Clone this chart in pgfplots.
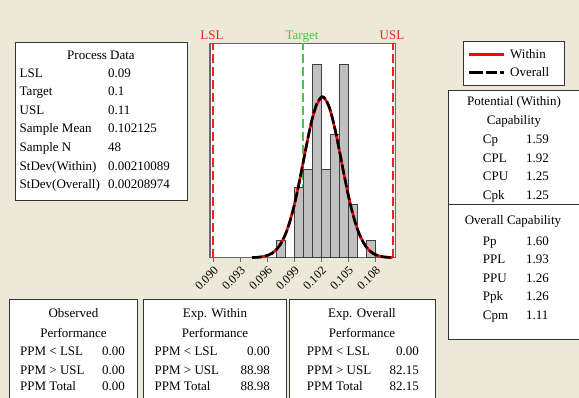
\documentclass[border=0pt]{standalone}
\usepackage{pgfplots}
\pgfplotsset{compat=1.18}
\usepackage{fontspec}
\setmainfont{Liberation Serif}
\definecolor{bg}{RGB}{236,233,216}
\definecolor{tgt}{RGB}{70,200,70}
\definecolor{specred}{RGB}{250,30,30}
\definecolor{barfill}{RGB}{192,192,192}
\definecolor{framec}{RGB}{105,105,105}
\begin{document}
\fontsize{13bp}{15bp}\selectfont
\begin{tikzpicture}
\useasboundingbox (0,0) rectangle (579bp,398bp);
\clip (0,0) rectangle (579bp,398bp);
\fill[bg] (0,0) rectangle (579bp,398bp);
\begin{axis}[
  at={(210bp,140.3bp)}, anchor=south west,
  scale only axis, width=185.7bp, height=214.4bp,
  xmin=0.08963, xmax=0.11027, ymin=0, ymax=12.2,
  clip=false,
  axis background/.style={fill=white},
  axis line style={framec, line width=1.5bp},
  ytick=\empty,
  xtick={0.090,0.093,0.096,0.099,0.102,0.105,0.108},
  xtick pos=left, tick align=outside, major tick length=4bp,
  tick style={framec, line width=1bp},
  scaled x ticks=false,
  xticklabel shift=3bp,
  xticklabel style={rotate=45, anchor=north east, inner sep=0.5bp, font=\fontsize{12bp}{14bp}\selectfont},
  /pgf/number format/.cd, fixed, fixed zerofill, precision=3, assume math mode=true,
]
\draw[color=specred, line width=1.7bp, dash pattern=on 9bp off 4bp] (axis cs:0.09,0) -- (axis cs:0.09,12.2);
\draw[color=specred, line width=1.7bp, dash pattern=on 9bp off 4bp] (axis cs:0.11,0) -- (axis cs:0.11,12.2);
\draw[color=tgt, line width=1.7bp, dash pattern=on 9bp off 4bp] (axis cs:0.1,0) -- (axis cs:0.1,12.2);
\addplot[ybar, bar width=0.001, fill=barfill, draw=black!75, line width=1bp] coordinates {(0.0975,1)(0.0995,4)(0.1005,5)(0.1015,11)(0.1025,5)(0.1035,7)(0.1045,11)(0.1055,3)(0.1075,1)};
\addplot[red, line width=2.6bp, smooth] coordinates {(0.0943,0.0089)(0.0950,0.0290)(0.0955,0.0631)(0.0960,0.1300)(0.0965,0.2530)(0.0970,0.4651)(0.0975,0.8079)(0.0980,1.3263)(0.0985,2.0575)(0.0990,3.0150)(0.0995,4.1759)(0.1000,5.4649)(0.1005,6.7584)(0.1010,7.8973)(0.1015,8.7204)(0.1020,9.0989)(0.102125,9.115)(0.1025,8.971)(0.1030,8.3577)(0.1035,7.3574)(0.1040,6.1204)(0.1045,4.8111)(0.1050,3.5734)(0.1055,2.5083)(0.1060,1.6634)(0.1065,1.0424)(0.1070,0.6175)(0.1075,0.3455)(0.1080,0.1827)(0.1085,0.0912)(0.1090,0.0431)(0.1095,0.0192)(0.1099,0.0097)};
\addplot[black, line width=2.6bp, smooth, dash pattern=on 10bp off 3bp] coordinates {(0.0943,0.0083)(0.0950,0.0274)(0.0955,0.0602)(0.0960,0.1249)(0.0965,0.2449)(0.0970,0.4530)(0.0975,0.7916)(0.0980,1.3062)(0.0985,2.0360)(0.0990,2.9956)(0.0995,4.1634)(0.1000,5.4642)(0.1005,6.7730)(0.1010,7.9279)(0.1015,8.7632)(0.1020,9.1476)(0.102125,9.164)(0.1025,9.0177)(0.1030,8.3949)(0.1035,7.3802)(0.1040,6.1270)(0.1045,4.8040)(0.1050,3.5569)(0.1055,2.4872)(0.1060,1.6422)(0.1065,1.0242)(0.1070,0.6030)(0.1075,0.3355)(0.1080,0.1761)(0.1085,0.0874)(0.1090,0.0409)(0.1095,0.0181)(0.1099,0.0090)};
\end{axis}
\begin{scope}[x=1bp, y=1bp, every node/.style={inner sep=0pt}]
% spec labels above plot
\node[anchor=base, text=specred] at (212,359) {LSL};
\node[anchor=base, text=tgt] at (302,359) {Target};
\node[anchor=base, text=specred] at (392,359) {USL};
% Process data box
\draw[fill=white, draw=black!80, line width=1bp] (15,197.3) rectangle (187.7,355.3);
\node[anchor=base] at (101,339) {Process Data};
\foreach \lab/\val/\yy in {LSL/0.09/321, Target/0.1/303, USL/0.11/284, Sample Mean/0.102125/265.3, Sample N/48/246.7, StDev(Within)/0.00210089/228, StDev(Overall)/0.00208974/209.3}{
  \node[anchor=base west] at (19.5,\yy) {\lab};
  \node[anchor=base west] at (108,\yy) {\val};
}
% legend box
\draw[fill=white, draw=black!80, line width=1bp] (463.3,312) rectangle (564,356.3);
\draw[red, line width=2.6bp] (469,343.7) -- (504,343.7);
\draw[black, line width=2.6bp, dash pattern=on 14bp off 3bp on 11bp off 3bp on 4bp off 5bp] (469,325.7) -- (504,325.7);
\node[anchor=base west] at (510,339.7) {Within};
\node[anchor=base west] at (510,321.7) {Overall};
% capability box
\draw[fill=white, draw=black!80, line width=1bp] (448.3,58.7) rectangle (595,307);
\draw[black!80, line width=1bp] (448.3,193.7) -- (595,193.7);
\node[anchor=base] at (514,292.3) {Potential (Within)};
\node[anchor=base] at (514,273.3) {Capability};
\foreach \lab/\val/\yy in {Cp/1.59/254.7, CPL/1.92/235.7, CPU/1.25/217.3, Cpk/1.25/198.3, Pp/1.60/153, PPL/1.93/134.7, PPU/1.26/115.7, Ppk/1.26/97.3, Cpm/1.11/79}{
  \node[anchor=base west] at (482.7,\yy) {\lab};
  \node[anchor=base west] at (526,\yy) {\val};
}
\node[anchor=base] at (513,174) {Overall Capability};
% bottom boxes
\draw[fill=white, draw=black!80, line width=1bp] (9.3,-10) rectangle (137.7,98);
\draw[fill=white, draw=black!80, line width=1bp] (143.3,-10) rectangle (286.7,98);
\draw[fill=white, draw=black!80, line width=1bp] (289.3,-10) rectangle (435,98);
\node[anchor=base] at (73.5,80.7) {Observed};
\node[anchor=base] at (215,80.7) {Exp. Within};
\node[anchor=base] at (362,80.7) {Exp. Overall};
\foreach \cx in {73.5,215,362}{\node[anchor=base] at (\cx,60.7) {Performance};}
\foreach \lx/\vx/\a/\b/\c in {20/125/0.00/0.00/0.00, 154.5/270/0.00/88.98/88.98, 306.7/419/0.00/82.15/82.15}{
  \node[anchor=base west] at (\lx,43) {PPM < LSL};
  \node[anchor=base west] at (\lx,24) {PPM > USL};
  \node[anchor=base west] at (\lx,7.3) {PPM Total};
  \node[anchor=base east] at (\vx,43) {\a};
  \node[anchor=base east] at (\vx,24) {\b};
  \node[anchor=base east] at (\vx,7.3) {\c};
}
\end{scope}
\end{tikzpicture}
\end{document}
